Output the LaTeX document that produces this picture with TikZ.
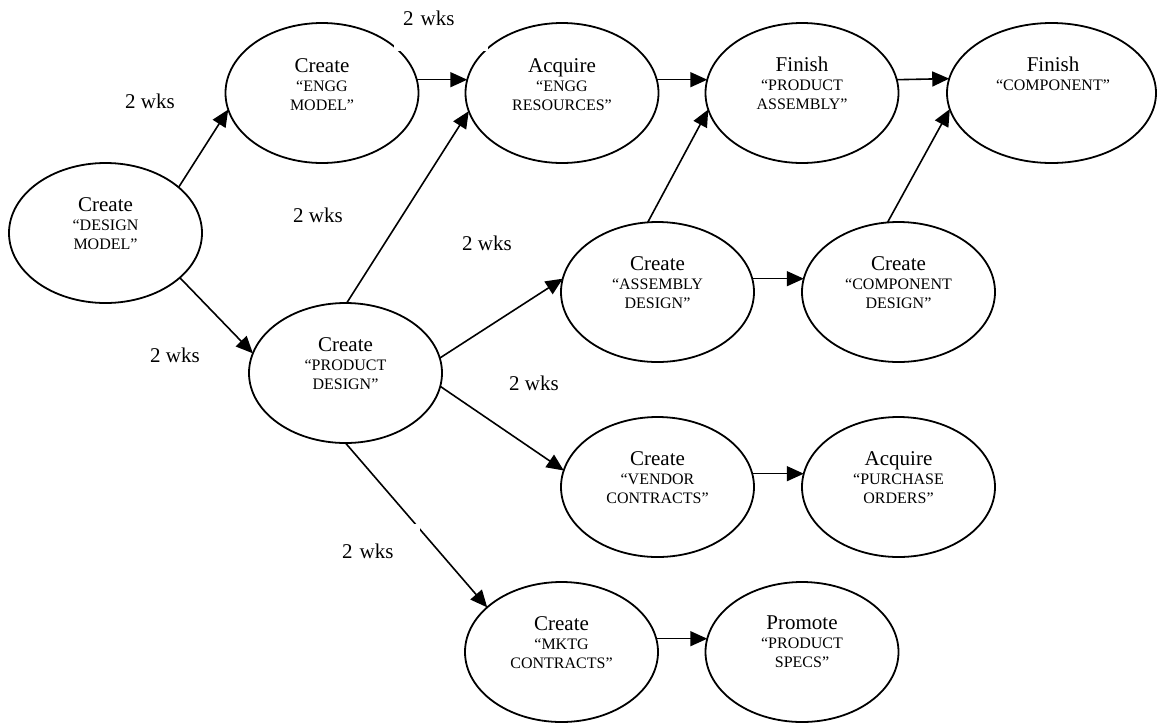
\documentclass[tikz,border=0pt]{standalone}
\usepackage{fontspec}
\setmainfont{Liberation Serif}
\usetikzlibrary{shapes.geometric,arrows.meta}
\newcommand{\actw}[1]{{\fontsize{21}{19}\selectfont #1}}
\begin{document}
\begin{tikzpicture}[x=1pt,y=-1pt,
  act/.style={ellipse, draw, line width=1.8pt, minimum width=193pt, minimum height=140pt, inner sep=0pt, outer sep=0pt},
  txt/.style={anchor=north, inner sep=0pt, align=center, font=\fontsize{16}{19}\selectfont},
  conn/.style={line width=1.6pt, -{Triangle[length=17pt,width=15pt]}},
  wk/.style={anchor=base west, inner sep=0pt, font=\fontsize{21}{24}\selectfont}]
\useasboundingbox (0,0) rectangle (1157,724);
% activities
\node[act] (dm) at (105.5,233) {};
\node[act] (em) at (322,93) {};
\node[act] (res) at (562,93) {};
\node[act] (pa) at (802,93) {};
\node[act, minimum width=209pt] (comp) at (1051.5,93) {};
\node[act] (pd) at (345.5,373) {};
\node[act] (ad) at (657.5,292) {};
\node[act] (cd) at (898.5,292) {};
\node[act] (ven) at (657.5,487) {};
\node[act] (po) at (898.5,487) {};
\node[act] (mk) at (561.5,652) {};
\node[act] (sp) at (802,652) {};
% texts
\node[txt] (dmt) at (105.5,197) {\actw{Create}\\“DESIGN\\MODEL”};
\node[txt] (emt) at (322,58) {\actw{Create}\\“ENGG\\MODEL”};
\node[txt] (rest) at (562,58) {\actw{Acquire}\\“ENGG\\RESOURCES”};
\node[txt] (pat) at (802,57) {\actw{Finish}\\“PRODUCT\\ASSEMBLY”};
\node[txt] (compt) at (1053,57) {\actw{Finish}\\“COMPONENT”};
\node[txt] (pdt) at (345.5,337) {\actw{Create}\\“PRODUCT\\DESIGN”};
\node[txt] (adt) at (657.5,256) {\actw{Create}\\“ASSEMBLY\\DESIGN”};
\node[txt] (cdt) at (898.5,256) {\actw{Create}\\“COMPONENT\\DESIGN”};
\node[txt] (vent) at (657.5,451) {\actw{Create}\\“VENDOR\\CONTRACTS”};
\node[txt] (pot) at (898.5,451) {\actw{Acquire}\\“PURCHASE\\ORDERS”};
\node[txt] (mkt) at (561.5,616) {\actw{Create}\\“MKTG\\CONTRACTS”};
\node[txt] (spt) at (802,616) {\actw{Promote}\\“PRODUCT\\SPECS”};
% connectors
\draw[conn] (dm.32) -- (em.190);
\draw[conn] (dm.329) -- (pd.168);
\draw[conn] (em.8) -- (res.172);
\draw[conn] (pd.89) -- (res.191);
\draw[conn] (res.8) -- (pa.172);
\draw[conn] (ad.98) -- (pa.190);
\draw[conn] (pa.8) -- (comp.172);
\draw[conn] (cd.99) -- (comp.189);
\draw[conn] (pd.9) -- (ad.172);
\draw[conn] (ad.8) -- (cd.172);
\draw[conn] (pd.352) -- (ven.170);
\draw[conn] (ven.8) -- (po.172);
\draw[conn] (pd.270) -- (mk.149);
\draw[conn] (mk.8) -- (sp.172);
% durations
\node[wk] (w1) at (125,108) {2 wks};
\node[wk] (w2) at (150,362) {2 wks};
\node[wk] (w3) at (293,222) {2 wks};
\node[wk] (w4) at (462,250) {2 wks};
\node[wk] (w5) at (509,390) {2 wks};
\node[wk, fill=white, inner xsep=9pt, text width=76pt, text height=25pt, text depth=26pt] (w0) at (394,25) {2 wks};
\node[wk, fill=white, inner xsep=9pt, text width=69pt, text height=34pt, text depth=20pt] (w6) at (333,558) {2 wks};
\end{tikzpicture}
\end{document}
